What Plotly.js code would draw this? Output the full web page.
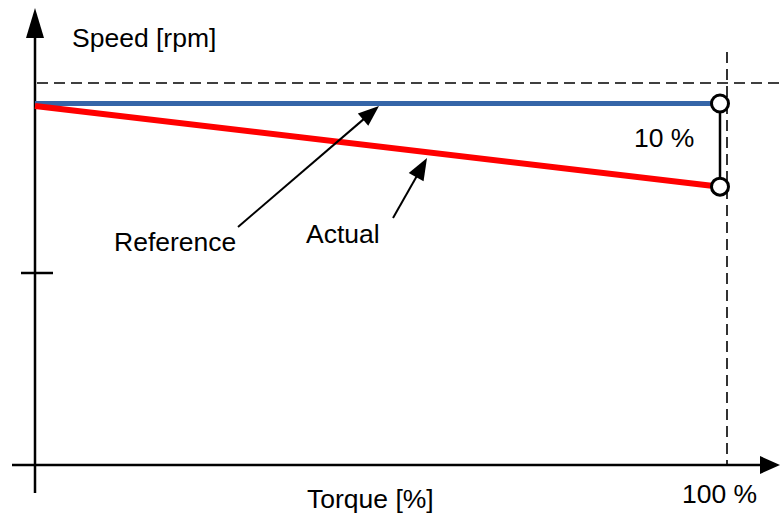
<!DOCTYPE html>
<html><head><meta charset="utf-8">
<script src="https://cdn.plot.ly/plotly-3.0.1.min.js"></script>
<style>html,body{margin:0;padding:0;background:#fff;} #chart{width:780px;height:518px;}</style>
</head><body><div id="chart"></div>
<script>
// ---- data ----
const torquePct = [0, 100];
const referenceSpeed = [100, 100];
const actualSpeed = [99.3, 77];
const droopText = '10 %';
const ratedTorqueLabel = '100 %';
const xAxisTitle = 'Torque [%]';
const yAxisTitle = 'Speed [rpm]';
const referenceLabel = 'Reference';
const actualLabel = 'Actual';

// ---- geometry (pixel frame -> data units) ----
const W = 780, H = 518;
const X0PX = 35, XPX_PER = 6.85, Y0PX = 465, YPX_PER = 3.615;
const xRange = [(0 - X0PX) / XPX_PER, (W - X0PX) / XPX_PER];
const yRange = [(Y0PX - H) / YPX_PER, (Y0PX - 0) / YPX_PER];
const X = px => (px - X0PX) / XPX_PER;
const Y = py => (Y0PX - py) / YPX_PER;

function line(x0, y0, x1, y1, w, dash, layer) {
  return {type: 'line', xref: 'x', yref: 'y', x0: X(x0), y0: Y(y0), x1: X(x1), y1: Y(y1),
    line: {color: '#000', width: w, dash: dash || 'solid'}, layer: layer || 'above'};
}
function head(tip, from, len, hw, layer) {
  const dx = tip[0] - from[0], dy = tip[1] - from[1];
  const d = Math.hypot(dx, dy), ux = dx / d, uy = dy / d;
  const bx = tip[0] - ux * len, by = tip[1] - uy * len;
  const p1 = [bx - uy * hw, by + ux * hw], p2 = [bx + uy * hw, by - ux * hw];
  const path = 'M' + X(tip[0]) + ',' + Y(tip[1]) + ' L' + X(p1[0]) + ',' + Y(p1[1]) +
    ' L' + X(p2[0]) + ',' + Y(p2[1]) + ' Z';
  return {type: 'path', xref: 'x', yref: 'y', path: path, fillcolor: '#000',
    line: {width: 0}, layer: layer || 'above'};
}
function arrow(from, tip, len, hw, w) {
  const dx = tip[0] - from[0], dy = tip[1] - from[1];
  const d = Math.hypot(dx, dy);
  const e = [tip[0] - dx / d * (len - 2), tip[1] - dy / d * (len - 2)];
  return [line(from[0], from[1], e[0], e[1], w), head(tip, from, len, hw)];
}

const dashY = 83, dashX = 727;

const shapes = [
  // axes
  line(35, 493, 35, 30, 2.5, 'solid', 'below'),
  head([35, 8], [35, 100], 30, 9, 'below'),
  line(12, 465, 765, 465, 2.5, 'solid', 'below'),
  head([780, 465], [700, 465], 20, 9, 'below'),
  // y tick
  line(21, 273, 53, 273, 2.5, 'solid', 'below'),
  // dashed guides
  line(37, dashY, 780, dashY, 1.6, '11px,6px', 'below'),
  line(dashX, 52, dashX, 465, 1.6, '11px,6px', 'below'),
  // pointer arrows
  ...arrow([238, 227], [379, 106], 21, 8, 2),
  ...arrow([393, 218], [427, 158], 22, 8.5, 2)
];

const font = {family: 'Liberation Sans, Arial, sans-serif', size: 26.5, color: '#000'};
function label(text, cx, cy) {
  return {text: text, x: X(cx), y: Y(cy), xref: 'x', yref: 'y', showarrow: false,
    xanchor: 'center', yanchor: 'middle', font: font};
}
const annotations = [
  label(yAxisTitle, 144, 38),
  label(xAxisTitle, 370.5, 499),
  label(ratedTorqueLabel, 719, 494),
  label(droopText, 663.5, 137.5),
  label(referenceLabel, 174.5, 242),
  label(actualLabel, 343.3, 234)
];

const traces = [
  {x: [torquePct[1], torquePct[1]], y: [referenceSpeed[1], actualSpeed[1]], mode: 'lines',
   line: {color: '#000', width: 2.5}, hoverinfo: 'skip'},
  {x: torquePct, y: referenceSpeed, mode: 'lines', line: {color: '#3565A8', width: 5}, name: referenceLabel},
  {x: torquePct, y: actualSpeed, mode: 'lines', line: {color: '#FF0000', width: 6}, name: actualLabel},
  {x: [torquePct[1], torquePct[1]], y: [referenceSpeed[1], actualSpeed[1]], mode: 'markers',
   marker: {symbol: 'circle', size: 17, color: '#fff', line: {color: '#000', width: 3}}, hoverinfo: 'skip'}
];

const layout = {
  width: W, height: H, margin: {l: 0, r: 0, t: 0, b: 0, pad: 0},
  paper_bgcolor: '#fff', plot_bgcolor: '#fff', showlegend: false,
  xaxis: {range: xRange, visible: false, fixedrange: true},
  yaxis: {range: yRange, visible: false, fixedrange: true},
  shapes: shapes, annotations: annotations, font: font
};
Plotly.newPlot('chart', traces, layout, {displayModeBar: false, staticPlot: true});
</script>
</body></html>
